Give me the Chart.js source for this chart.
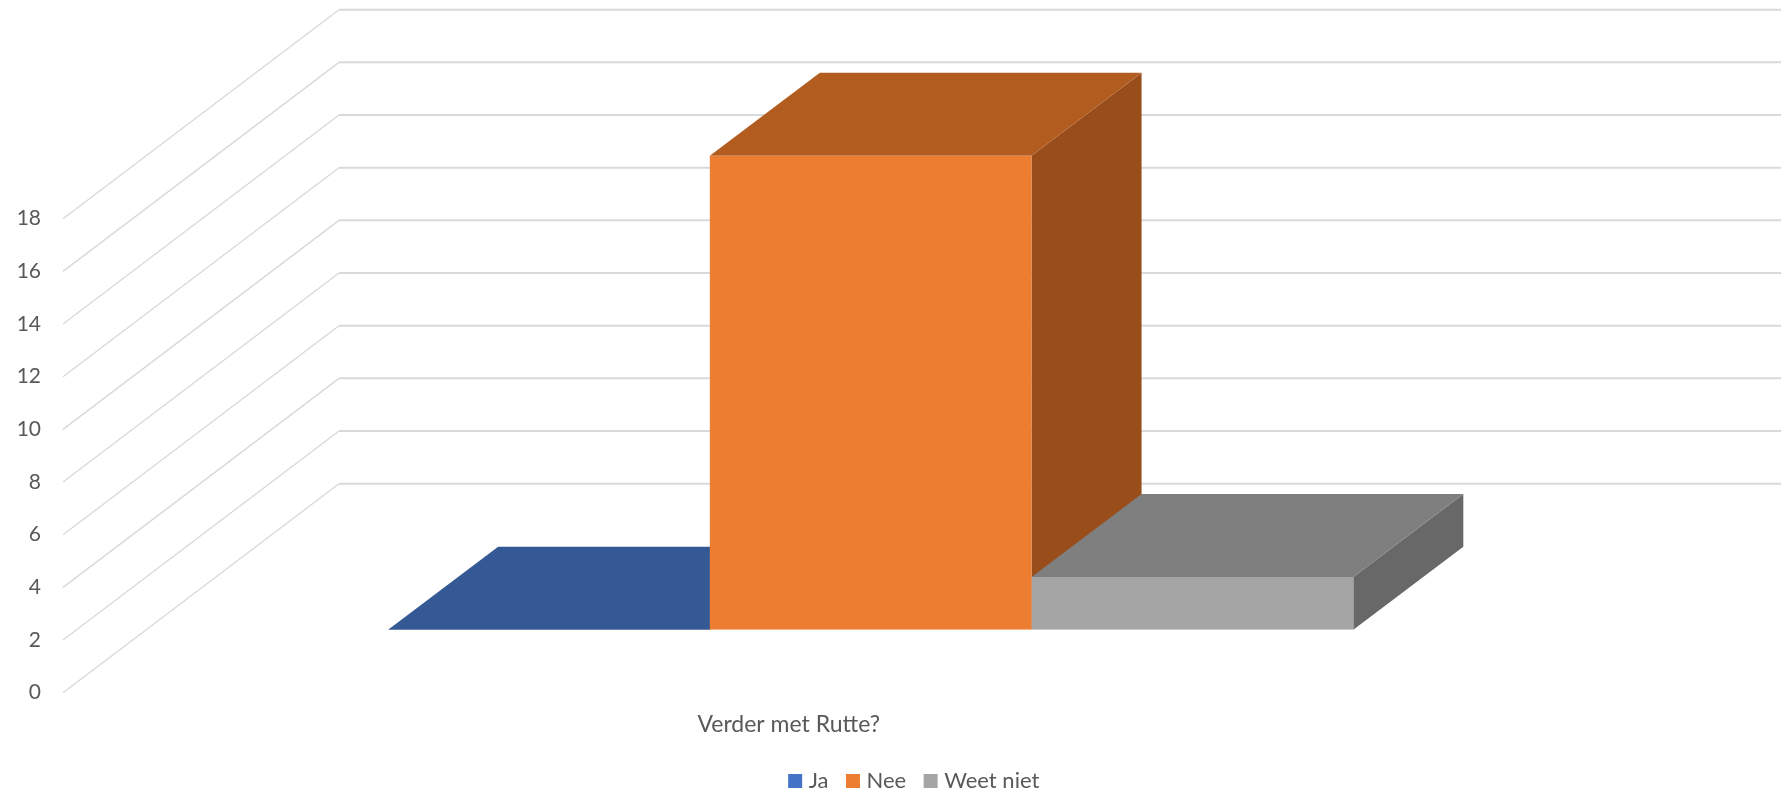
<!DOCTYPE html>
<html>
<head>
<meta charset="utf-8">
<title>Verder met Rutte?</title>
<script src="https://cdn.jsdelivr.net/npm/chart.js@4/dist/chart.umd.js"></script>
<style>
  html, body { margin: 0; padding: 0; background: #fff; overflow: hidden; }
  #wrap { width: 1781px; height: 796px; }
</style>
</head>
<body>
<div id="wrap"><canvas id="grafico"></canvas></div>
<script>
var categorias = ['Verder met Rutte?'];
var series = ['Ja', 'Nee', 'Weet niet'];
var valores = [0, 18, 2];
var yMin = 0;
var yMax = 18;
var yPasso = 2;

var corFrente = ['#4472C4', '#ED7D31', '#A5A5A5'];
var corTopo = ['#355995', '#B35C20', '#7F7F7F'];
var corLado = ['#2B4A7E', '#984D1B', '#686868'];

var FONTE = 'Lato, Carlito, sans-serif';
var COR_TEXTO = '#595959';
var COR_GRADE = '#D9D9D9';

// bar depth, and the shift between the bar plane and the front / back of the floor
var barDx = 110, barDy = -83;
var frenteDy = 63;
var paredeDx = 276, paredeDy = -209;

function poligono(ctx, pts, cor) {
    ctx.fillStyle = cor;
    ctx.beginPath();
    ctx.moveTo(pts[0][0], pts[0][1]);
    for (var i = 1; i < pts.length; i++) ctx.lineTo(pts[i][0], pts[i][1]);
    ctx.closePath();
    ctx.fill();
}

var plugin3d = {
    id: 'plugin3d',
    afterLayout: function(chart) {
        // excel does not centre the legend on the plot, move it to where it sits
        var d = 916 - (chart.legend.left + chart.legend.right) / 2;
        chart.legend.left += d;
        chart.legend.right += d;
        chart.legend.top += 10;
        chart.legend.bottom += 10;
    },
    beforeDatasetsDraw: function(chart) {
        var ctx = chart.ctx;
        var y = chart.scales.y;
        var x0 = chart.chartArea.left;

        // wall and floor gridlines
        ctx.save();
        ctx.strokeStyle = COR_GRADE;
        y.ticks.forEach(function(t) {
            var py = y.getPixelForValue(t.value) + frenteDy;
            ctx.lineWidth = 1.4;
            ctx.beginPath();
            ctx.moveTo(x0, py);
            ctx.lineTo(x0 + paredeDx, py + paredeDy);
            ctx.stroke();
            ctx.lineWidth = 2;
            ctx.beginPath();
            ctx.moveTo(x0 + paredeDx, py + paredeDy);
            ctx.lineTo(chart.width, py + paredeDy);
            ctx.stroke();
        });

        // top and side of each bar, the fronts come from chart.js afterwards
        for (var i = 0; i < series.length; i++) {
            var b = chart.getDatasetMeta(i).data[0];
            var esq = b.x - b.width / 2;
            var dir = b.x + b.width / 2;
            poligono(ctx, [[dir, b.y], [dir + barDx, b.y + barDy], [dir + barDx, b.base + barDy], [dir, b.base]], corLado[i]);
            poligono(ctx, [[esq, b.y], [esq + barDx, b.y + barDy], [dir + barDx, b.y + barDy], [dir, b.y]], corTopo[i]);
        }
        ctx.restore();
    }
};

var datasets = [];
for (var i = 0; i < series.length; i++) {
    datasets.push({
        label: series[i],
        data: [valores[i]],
        backgroundColor: corFrente[i],
        borderWidth: 0,
        pointStyle: 'rect'
    });
}

new Chart(document.getElementById('grafico'), {
    type: 'bar',
    data: { labels: categorias, datasets: datasets },
    plugins: [plugin3d],
    options: {
        responsive: true,
        maintainAspectRatio: false,
        animation: false,
        categoryPercentage: 0.5975,
        barPercentage: 1,
        layout: { padding: { top: 155.7, right: 102.6, bottom: 4, left: 0 } },
        plugins: {
            title: { display: false },
            tooltip: { enabled: false },
            legend: {
                position: 'bottom',
                labels: {
                    usePointStyle: true,
                    boxWidth: 5,
                    boxHeight: 14,
                    padding: 22,
                    color: COR_TEXTO,
                    font: { family: FONTE, size: 22 }
                }
            }
        },
        scales: {
            x: {
                grid: { display: false, drawTicks: false },
                border: { display: false },
                ticks: {
                    color: COR_TEXTO,
                    font: { family: FONTE, size: 23 },
                    padding: 81.5,
                    labelOffset: -82,
                    maxRotation: 0
                },
                afterFit: function(s) { s.height = 108.3; }
            },
            y: {
                min: yMin,
                max: yMax,
                grid: { display: false, drawTicks: false },
                border: { display: false },
                ticks: {
                    stepSize: yPasso,
                    color: COR_TEXTO,
                    font: { family: FONTE, size: 21 },
                    padding: 22,
                    labelOffset: frenteDy
                },
                afterFit: function(s) { s.width = 63; }
            }
        }
    }
});
</script>
</body>
</html>
